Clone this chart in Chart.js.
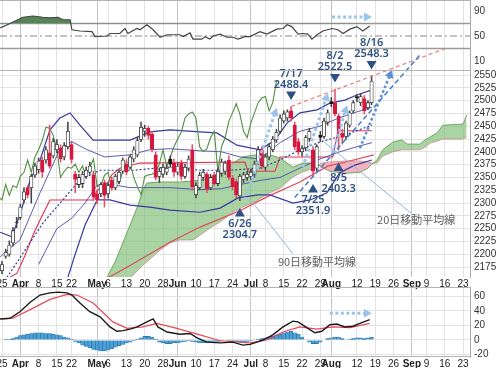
<!DOCTYPE html>
<html><head><meta charset="utf-8">
<script src="https://cdn.jsdelivr.net/npm/chart.js@4/dist/chart.umd.min.js"></script>
<style>
html,body{margin:0;padding:0;background:#fff;overflow:hidden}
#wrap{position:relative;width:500px;height:368px;background:#fff}
canvas{position:absolute;left:0}
</style></head><body>
<div id="wrap">
<canvas id="main" width="500" height="290" style="top:0;width:500px;height:290px"></canvas>
<canvas id="rsi" width="500" height="71" style="top:0;width:500px;height:71px"></canvas>
<canvas id="macd" width="500" height="83" style="top:285px;width:500px;height:83px"></canvas>
</div>
<script>
// ---------- axis data ----------
const tickDays   = [0,5,10,15,19,26,29,34,39,44,48,53,58,63,68,72,77,82,87,90,97,102,107,112,116,121,126];
const tickLabels = ['25','Apr','8','15','22','May','6','13','20','28','Jun','10','17','24','Jul','8','15','22','29','Aug','12','19','26','Sep','9','16','23'];
const monthNames = ['Apr','May','Jun','Jul','Aug','Sep'];
const priceTicks = [2550,2525,2500,2475,2450,2425,2400,2375,2350,2325,2300,2275,2250,2225,2200,2175];
const rsiTicks   = [90,70,50,30,10];
const macdTicks  = [60,40,20,0,-20];

// ---------- daily candles (trading day index 0 = 3/25) ----------
const opens  = [2168,2196,2200,2222,2262,2272,2306,2330,2330,2355, 2365,2384,2384,2398,2392,2404,2408,2390,2410,2414, 2356,2336,2338,2352,2360,2355,2318,2318,2340,2318, 2345,2330,2342,2362,2376,2370,2386,2394,2424,2440, 2446,2434,2394,2352,2356,2360,2386,2378,2360,2378, 2352,2368,2404,2316,2330,2350,2356,2330,2354,2338, 2358,2362,2384,2348,2342,2314,2346,2350,2352,2356, 2380,2404,2370,2390,2404,2423,2440,2460,2466,2480, 2452,2420,2400,2408,2426,2404,2368,2432,2430,2458, 2498,2496,2470,2436,2430,2452,2480,2508,2496,2504, 2486,2496];
const highs  = [2186,2210,2226,2252,2272,2298,2330,2334,2356,2378, 2388,2390,2410,2452,2426,2424,2414,2418,2458,2420, 2362,2356,2362,2370,2380,2362,2325,2340,2345,2340, 2350,2356,2365,2388,2385,2394,2410,2428,2458,2452, 2450,2440,2400,2368,2376,2374,2392,2386,2378,2384, 2376,2392,2414,2340,2360,2366,2360,2356,2360,2368, 2386,2382,2392,2354,2346,2356,2360,2362,2366,2382, 2410,2410,2396,2416,2430,2444,2472,2480,2482,2488.4, 2458,2426,2412,2432,2446,2410,2414,2440,2466,2482, 2506,2522.5,2474,2444,2460,2480,2500,2512,2514,2510, 2500,2548.3];
const lows   = [2162,2192,2196,2216,2252,2268,2300,2310,2300,2350, 2358,2350,2378,2368,2388,2398,2380,2384,2405,2378, 2320,2330,2330,2348,2356,2305,2298,2312,2292,2310, 2325,2326,2338,2358,2355,2366,2380,2390,2420,2430, 2425,2400,2345,2340,2350,2355,2370,2352,2355,2345, 2348,2362,2325,2310,2326,2344,2320,2326,2334,2334, 2352,2356,2346,2326,2310,2304.7,2340,2344,2346,2350, 2376,2366,2364,2384,2400,2418,2436,2456,2460,2460, 2404,2394,2392,2402,2420,2351.9,2362,2420,2426,2452, 2488,2470,2403.3,2415,2424,2448,2476,2498,2490,2474, 2482,2492];
const closes = [2180,2204,2218,2246,2261,2292,2322,2316,2352,2372, 2382,2360,2404,2372,2420,2414,2386,2412,2440,2385, 2346,2350,2356,2364,2372,2312,2306,2336,2315,2334, 2330,2352,2360,2384,2360,2390,2404,2422,2448,2446, 2432,2405,2350,2362,2370,2368,2376,2360,2372,2352, 2370,2386,2332,2334,2354,2360,2327,2350,2338,2362, 2380,2378,2350,2332,2316,2352,2355,2356,2360,2376, 2404,2372,2390,2410,2425,2438,2466,2474,2478,2466, 2410,2400,2406,2428,2440,2362,2410,2428,2460,2476, 2494,2474,2440,2428,2456,2476,2496,2505,2508,2480, 2496,2538];

// ---------- overlay lines: [day index, price] ----------
const bbUpper2 = [[-0.5,2243],[2.7,2234],[4.9,2277],[7.7,2345],[10.4,2384],[13.1,2443],[15.8,2466],[18.6,2476],[21.3,2452],[24.9,2423],[29.5,2423],[35,2423],[40.4,2439],[45.9,2443],[54.1,2439],[58.7,2437],[64.2,2413],[70.5,2404],[74.6,2423],[77.9,2456],[81.4,2476],[86.1,2482],[89.6,2495],[93.7,2501],[97,2511],[101.1,2521]];
const bbLower2 = [[15,2080],[17.8,2150],[19.9,2198],[22.7,2257],[26,2306],[29.5,2306],[35,2296],[40.4,2292],[45.9,2286],[54.1,2282],[59.6,2290],[64.5,2310],[70,2316],[73.2,2316],[79.5,2300],[84.2,2306],[88.8,2320],[92.3,2359],[96.4,2374],[101.1,2384]];
const bbUpper1 = [[-0.5,2195],[4.9,2228],[10.4,2320],[15.8,2405],[19,2420],[23,2405],[28,2390],[35,2394],[40.4,2404],[45.9,2406],[54.1,2402],[60,2400],[65,2390],[70.5,2386],[76,2418],[81.4,2440],[86.9,2450],[92,2466],[97,2478],[101.1,2487]];
const bbLower1 = [[10,2180],[15,2250],[19,2270],[22.7,2300],[26,2335],[30,2336],[35,2330],[40.4,2330],[45.9,2330],[54.1,2326],[60,2328],[65,2336],[70.5,2344],[76,2350],[81.4,2368],[86.9,2386],[92.3,2400],[97,2410],[101.1,2418]];
const ma20 = [[-0.5,2135],[1.4,2155],[11.2,2261],[21.3,2345],[26.8,2364],[35.8,2364],[45.1,2370],[54.1,2364],[62.3,2364],[70.5,2368],[76,2384],[81.4,2404],[86.9,2419],[93.7,2433],[101.1,2452]];
const ma90 = [[28,2150],[35,2178],[46,2224],[54.1,2253],[65,2285],[73,2314],[81.4,2341],[89,2372],[95,2382],[101.6,2394]];
const kijun = [[2.2,2155],[4.1,2163],[6.3,2198],[8.5,2238],[10.4,2267],[13.1,2306],[24.9,2306],[26,2325],[27.9,2333],[29,2341],[30,2355],[31.1,2361],[32.2,2368],[37.7,2378],[66.4,2380],[67.2,2362],[74.6,2362],[76,2390],[90.4,2390],[91.8,2441],[101.1,2441]];
const cloudDays = [28.7,30.9,32.8,35,37.2,38.5,39.6,43.2,45.9,48.6,52.2,54.1,56.8,59.6,63.1,65.8,69.1,73.2,76,79.5,82.2,85.5,87.4,89.6,93.7,97.8,100,101.1,102.5,104.1,106.8,109.3,110.7,114.2,115.6,117,118.9,120.5,126,127];
const spanA = [2155,2185,2218,2257,2296,2325,2339,2341,2341,2341,2343,2345,2349,2361,2378,2390,2394,2394,2388,2370,2378,2378,2370,2362,2358,2360,2368,2376,2384,2404,2419,2423,2415,2415,2423,2429,2437,2452,2454,2472];
const spanB = [2130,2140,2146,2154,2169,2179,2185,2208,2222,2228,2228,2237,2251,2263,2282,2292,2302,2320,2329,2351,2361,2368,2378,2380,2382,2382,2380,2378,2378,2392,2400,2404,2404,2404,2409,2417,2421,2425,2425,2429];

// ---------- RSI ----------
const rsiDays = [-0.5,2.2,5.7,8.5,11.2,13.1,15.3,16.7,18.6,19.1,21.3,24.6,25.4,28.7,29.5,32.2,33.6,34.4,36.9,37.7,39.6,41.3,43.2,45.1,48.6,49.5,51.4,52.2,54.6,55.5,56.8,57.7,59.6,61.5,63.1,64.5,66.4,67.8,70.5,72.4,75.1,76.8,77.9,79.2,80.9,82.2,83.6,84.7,86.1,87.7,90.2,91.8,93.2,95.1,97,98.6,100.5];
const rsiVals = [63,70,80,82,80,79,80,76,76,60,58,57,49,50,54,54,62,54,62,60,68,60,48,52,52,49,55,45,45,49,45,50,53,48,48,45,49,49,57,53,61,62,68,65,53,54,53,45,52,58,62,60,54,61,65,58,66];

// ---------- MACD ----------
const macdDays = [-0.5,2.2,4.9,7.7,10.4,13.1,15.3,17.8,19.1,21.3,24,26.8,29.5,31.4,33.1,35,36.9,39.6,41.3,42.6,45.1,48.6,51.4,53.3,56,59.6,63.1,65.8,67.8,71.3,74,76.8,79.5,80.9,83.3,85.5,87.4,89.6,91.5,93.7,95.9,97.8,100.5];
const macdVals = [29,30,39,52,62,65,66,65,62,51,39,32,18,12,13,15,18,25,29,18,11,8,9,3,-3,-4,-3,-7,-6,0,7,18,26,25,17,10,12,21,22,18,19,23,28];
const signalDays = [-0.5,3,8.5,13.1,17.8,20.5,24.9,30.3,34.2,38.5,42.3,47.8,54.1,59.6,67.8,72.4,76.8,81.4,86.1,90.4,95.1,100.5];
const signalVals = [29,30,44,56,63,62,51,25,16,18,23,16,7,-1,-4,0,11,18,15,18,17,23];
const histVals = [0,0.5,1,2,4,6,7,8,9,10, 10,10,9,9,8,7,6,4,3,1, -2,-4,-7,-9,-11,-13,-14,-15,-15,-14, -12,-10,-8,-6,-4,-3,-1,1,3,5, 5,4,1,-3,-4,-5,-5,-4,-4,-3, -2,-1,-2,-3,-4,-4,-4,-3,-2,-2, -1,0,-1,-1,-2,-3,-3,-2,-1,0, 1,2,3,4,5,7,8,10,11,12, 10,8,4,0,-3,-5,-5,-3,0,2, 3,4,4,2,0,1,2,3,3,2, 3,4];

// ---------- annotations ----------
const markers = [
  {label:'6/26', day:65, kind:'low'},
  {label:'7/17', day:79, kind:'high'},
  {label:'7/25', day:85, kind:'low'},
  {label:'8/2',  day:91, kind:'high'},
  {label:'8/5',  day:92, kind:'low', gap:5},
  {label:'8/16', day:101, kind:'high'}
];

// ---------- helpers ----------
const XMIN = -0.55, XMAX = 127.9;
const FONT = '"Liberation Sans", Arial, sans-serif';
const pts = a => a.map(([x,y]) => ({x, y}));
const isMonth = i => monthNames.includes(tickLabels[i]);
function kind(i){
  if (i === undefined) return 'up';
  if (closes[i] >= opens[i]) return 'up';
  if (i > 0 && closes[i] >= closes[i-1]) return 'black';
  return 'down';
}
const RED = '#d8163e';
const bodyFill = i => ({up:'#ffffff', black:'#151515', down:RED})[kind(i)];
const bodyLine = i => ({up:'#333333', black:'#151515', down:RED})[kind(i)];
const wickCol  = i => kind(i) === 'down' ? '#e0506a' : '#444444';

function xAxis(h, show){
  return {
    type:'linear', min:XMIN, max:XMAX, offset:false,
    afterBuildTicks: s => { s.ticks = tickDays.map(v => ({value:v})); },
    afterFit: s => { s.height = h; s.paddingLeft = 0; s.paddingRight = 0; },
    ticks:{display:show, autoSkip:false, maxRotation:0, minRotation:0, padding:1, color:'#222',
      font: c => ({family:FONT, size:10, weight: isMonth(c.index) ? 'bold' : 'normal'}),
      callback: (v, i) => tickLabels[i]},
    grid:{color: c => isMonth(c.index) ? '#c4c4c4' : '#e3e3e3', lineWidth:1, drawTicks:false, offset:false},
    border:{display:false}
  };
}
function yAxis(min, max, ticks, gridColor){
  return {
    position:'right', min, max,
    afterBuildTicks: s => { s.ticks = ticks.map(v => ({value:v})); },
    afterFit: s => { s.width = 30; s.paddingTop = 0; s.paddingBottom = 0; },
    ticks:{padding:4, color:'#333', font:{family:FONT, size:10}, callback: v => String(v)},
    grid:{color:gridColor, drawTicks:false},
    border:{display:true, color:'#a8a8a8'}
  };
}
function line(data, color, w, extra){
  return Object.assign({type:'line', data, borderColor:color, borderWidth:w, pointRadius:0, fill:false, tension:0}, extra || {});
}
function seg(ctx, x1, y1, x2, y2, st){
  ctx.save();
  ctx.strokeStyle = st.c; ctx.lineWidth = st.w; ctx.setLineDash(st.d || []); ctx.lineCap = 'butt';
  const ang = Math.atan2(y2 - y1, x2 - x1);
  const L = st.arrow ? 8 : 0;
  ctx.beginPath(); ctx.moveTo(x1, y1); ctx.lineTo(x2 - Math.cos(ang)*L*0.6, y2 - Math.sin(ang)*L*0.6); ctx.stroke();
  if (st.arrow){
    const W = 4.5;
    ctx.setLineDash([]); ctx.fillStyle = st.c;
    ctx.beginPath();
    ctx.moveTo(x2, y2);
    ctx.lineTo(x2 - Math.cos(ang)*L - Math.sin(ang)*W, y2 - Math.sin(ang)*L + Math.cos(ang)*W);
    ctx.lineTo(x2 - Math.cos(ang)*L + Math.sin(ang)*W, y2 - Math.sin(ang)*L - Math.cos(ang)*W);
    ctx.closePath(); ctx.fill();
  }
  ctx.restore();
}
const ST = {
  redDash:{c:'#ef7b80', w:1.2, d:[4,3]},
  blueDash:{c:'#3f7fd0', w:1.5, d:[5,3]},
  blueDot:{c:'#5b8fd6', w:2.6, d:[2.6,2.4], arrow:true},
  lightDot:{c:'#9dc3ea', w:3, d:[3,2.5], arrow:true},
  callout:{c:'#93b7dc', w:1}
};
const segs = [
  {a:[79,2488.4], b:[121.6,2603], s:'redDash'},
  {a:[80,2311], b:[114.2,2589], s:'blueDash'},
  {a:[97.8,2407], b:[106.6,2560], s:'blueDot'},
  {a:[66.4,2306], b:[75.1,2486], s:'lightDot'},
  {a:[82.2,2370], b:[89.1,2515], s:'lightDot'},
  {a:[90.4,2398], b:[94.3,2491], s:'lightDot'},
  {a:[79.5,2201], b:[68.6,2300], s:'callout'},
  {a:[112,2279], b:[87.4,2423], s:'callout'}
];
const jpLabels = [
  {text:'90日移動平均線', day:75.4, value:2185},
  {text:'20日移動平均線', day:102.5, value:2267}
];

const mainAnnot = {
  id:'mainAnnot',
  afterDatasetsDraw(ch){
    const {ctx, scales:{x, y}} = ch;
    const X = v => x.getPixelForValue(v), Y = v => y.getPixelForValue(v);
    segs.forEach(g => seg(ctx, X(g.a[0]), Y(g.a[1]), X(g.b[0]), Y(g.b[1]), ST[g.s]));
    ctx.save();
    ctx.fillStyle = '#2d5182';
    ctx.textAlign = 'center'; ctx.textBaseline = 'middle';
    ctx.font = '600 11px "Noto Sans", "Liberation Sans", sans-serif';
    markers.forEach(m => {
      const px = X(m.day), g = m.gap || 0;
      if (m.kind === 'high'){
        const py = Y(highs[m.day]) - g;
        const t = py - 11;
        ctx.beginPath(); ctx.moveTo(px-5, t-4); ctx.lineTo(px+5, t-4); ctx.lineTo(px, t+4.5); ctx.closePath(); ctx.fill();
        ctx.fillText(highs[m.day].toFixed(1), px, py - 22);
        ctx.fillText(m.label, px, py - 33);
      } else {
        const py = Y(lows[m.day]) + g;
        const t = py + 12;
        ctx.beginPath(); ctx.moveTo(px-5, t+4); ctx.lineTo(px+5, t+4); ctx.lineTo(px, t-4.5); ctx.closePath(); ctx.fill();
        ctx.fillText(m.label, px, py + 23);
        ctx.fillText(lows[m.day].toFixed(1), px, py + 34);
      }
    });
    ctx.fillStyle = '#5e5e5e';
    ctx.textAlign = 'left';
    ctx.font = '11px "Noto Sans CJK JP", sans-serif';
    jpLabels.forEach(l => ctx.fillText(l.text, X(l.day), Y(l.value)));
    ctx.restore();
  }
};

Chart.defaults.animation = false;
Chart.defaults.font.family = FONT;

// ---------- main price chart ----------
new Chart(document.getElementById('main'), {
  type:'line',
  data:{datasets:[
    {type:'bar', data: opens.map((o,i) => ({x:i, y:[o, closes[i]]})), backgroundColor: c => bodyFill(c.dataIndex), borderColor: c => bodyLine(c.dataIndex), borderWidth:0.8, borderSkipped:false, barThickness:3.4, grouped:false, order:0},
    {type:'bar', data: lows.map((l,i) => ({x:i, y:[l, highs[i]]})), backgroundColor: c => wickCol(c.dataIndex), borderWidth:0, barThickness:0.9, grouped:false, order:1},
    line(closes.map((c,i) => ({x:i-26, y:c})), '#4f9140', 1.1, {order:2}),
    line(pts(ma20), '#2f3f9a', 1.2, {order:3, borderDash:[2,2]}),
    line(pts(bbUpper2), '#3a3a9e', 1.2, {order:4}),
    line(pts(bbLower2), '#3a3a9e', 1.2, {order:4}),
    line(pts(bbUpper1), '#4a4aa8', 0.9, {order:4}),
    line(pts(bbLower1), '#4a4aa8', 0.9, {order:4}),
    line(pts(kijun), '#e0304c', 1.1, {order:5}),
    line(pts(ma90), '#e04a5a', 1.2, {order:6}),
    line(cloudDays.map((d,k) => ({x:d, y:spanA[k]})), '#6fa463', 1, {order:20, fill:{target:'+1', above:'rgba(122,188,112,0.64)', below:'rgba(236,156,170,0.75)'}}),
    line(cloudDays.map((d,k) => ({x:d, y:spanB[k]})), '#d8959a', 1, {order:21})
  ]},
  options:{
    responsive:false, animation:false, events:[],
    layout:{padding:0},
    plugins:{legend:{display:false}, tooltip:{enabled:false}},
    scales:{ x: xAxis(13, true), y: yAxis(2155.5, 2696.5, priceTicks, '#e3e3e3') }
  },
  plugins:[mainAnnot]
});

// ---------- RSI panel ----------
const rsiPlugin = {
  id:'rsiRefs',
  beforeDatasetsDraw(ch){
    const {ctx, chartArea:a, scales:{x, y}} = ch;
    ctx.save();
    const hl = (v, col, w, dash) => { const yy = y.getPixelForValue(v); ctx.strokeStyle = col; ctx.lineWidth = w; ctx.setLineDash(dash || []); ctx.beginPath(); ctx.moveTo(a.left, yy); ctx.lineTo(a.right, yy); ctx.stroke(); };
    hl(70, '#9c9c9c', 1.6); hl(30, '#9c9c9c', 1.6); hl(50, '#888', 1, [7,3,2,3]);
    ctx.setLineDash([]); ctx.strokeStyle = '#b4b4b4'; ctx.lineWidth = 1;
    ctx.beginPath(); ctx.moveTo(0, 0.5); ctx.lineTo(a.right, 0.5); ctx.moveTo(0, a.bottom - 0.5); ctx.lineTo(a.right, a.bottom - 0.5); ctx.stroke();
    ctx.restore();
  },
  afterDatasetsDraw(ch){
    const {ctx, scales:{x, y}} = ch;
    seg(ctx, x.getPixelForValue(90.2), y.getPixelForValue(80.4), x.getPixelForValue(101.1), y.getPixelForValue(80.4), ST.lightDot);
  }
};
new Chart(document.getElementById('rsi'), {
  type:'line',
  data:{datasets:[
    line(rsiDays.map((d,k) => ({x:d, y:rsiVals[k]})), '#454545', 1.2, {fill:{value:70, above:'rgba(70,120,70,0.9)', below:'rgba(0,0,0,0)'}})
  ]},
  options:{
    responsive:false, animation:false, events:[],
    layout:{padding:0},
    plugins:{legend:{display:false}, tooltip:{enabled:false}},
    scales:{
      x: Object.assign(xAxis(0, false), {display:false}),
      y: yAxis(-6, 107.6, rsiTicks, 'rgba(0,0,0,0)')
    }
  },
  plugins:[rsiPlugin]
});

// ---------- MACD panel ----------
const macdPlugin = {
  id:'macdFrame',
  beforeDatasetsDraw(ch){
    const {ctx, chartArea:a} = ch;
    ctx.save(); ctx.strokeStyle = '#b4b4b4'; ctx.lineWidth = 1;
    ctx.beginPath(); ctx.moveTo(0, a.top + 0.5); ctx.lineTo(a.right, a.top + 0.5); ctx.moveTo(0, a.bottom - 0.5); ctx.lineTo(a.right, a.bottom - 0.5); ctx.stroke();
    ctx.restore();
  },
  afterDatasetsDraw(ch){
    const {ctx, scales:{x, y}} = ch;
    seg(ctx, x.getPixelForValue(89.6), y.getPixelForValue(37), x.getPixelForValue(101.1), y.getPixelForValue(37), ST.lightDot);
  }
};
new Chart(document.getElementById('macd'), {
  type:'line',
  data:{datasets:[
    line(macdDays.map((d,k) => ({x:d, y:macdVals[k]})), '#1a1a1a', 1.4, {order:0}),
    line(signalDays.map((d,k) => ({x:d, y:signalVals[k]})), '#e8485a', 1.2, {order:1}),
    {type:'bar', data: histVals.map((v,i) => ({x:i, y:v})), backgroundColor:'#4aa0d8', borderColor:'#2a6a98', borderWidth:0.6, barThickness:3.66, grouped:false, order:2}
  ]},
  options:{
    responsive:false, animation:false, events:[],
    layout:{padding:{top:2}},
    plugins:{legend:{display:false}, tooltip:{enabled:false}},
    scales:{ x: xAxis(11, true), y: yAxis(-23.45, 73.1, macdTicks, '#e3e3e3') }
  },
  plugins:[macdPlugin]
});
</script>
</body></html>
